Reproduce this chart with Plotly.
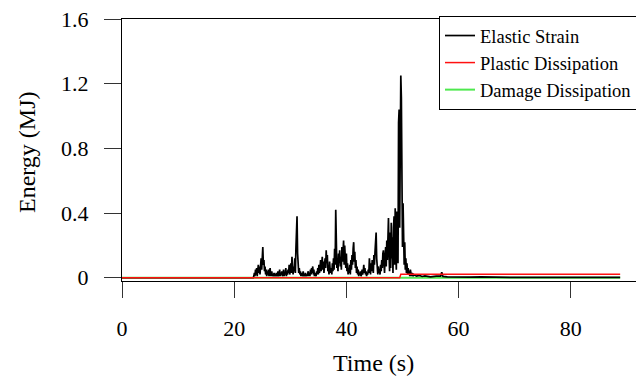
import plotly.graph_objects as go

# ---- data ----
# Elastic strain energy (MJ): zero before 23 s, dense record 23.0-52.0 s every 0.1 s, then a sparse tail
elastic_lead_time = [0.0, 22.9]
elastic_lead_vals = [0.0, 0.0]
elastic_dense_start = 23.0
elastic_dense_step = 0.1
elastic_dense_vals = [
    0, 0, 0, 0, 0, 0.01, 0.03, 0.01, 0.05, 0.02,                      # 23
    0.06, 0.01, 0.04, 0.08, 0.03, 0.07, 0.02, 0.09, 0.12, 0.05,        # 24
    0.15, 0.19, 0.08, 0.11, 0.04, 0.07, 0.02, 0.05, 0.01, 0.04,        # 25
    0.02, 0.05, 0.01, 0.03, 0.06, 0.01, 0.02, 0.04, 0.01, 0.02,        # 26
    0.01, 0.03, 0.01, 0.02, 0.01, 0.03, 0.02, 0.01, 0.04, 0.01,        # 27
    0.02, 0.05, 0.01, 0.03, 0.02, 0.04, 0.01, 0.02, 0.05, 0.01,        # 28
    0.03, 0.02, 0.06, 0.01, 0.04, 0.02, 0.05, 0.03, 0.08, 0.02,        # 29
    0.05, 0.09, 0.03, 0.13, 0.06, 0.02, 0.07, 0.04, 0.12, 0.03,        # 30
    0.18, 0.27, 0.38, 0.15, 0.09, 0.03, 0.06, 0.02, 0.04, 0.01,        # 31
    0.03, 0.01, 0.02, 0.04, 0.01, 0.02, 0.01, 0.03, 0.01, 0.02,        # 32
    0.01, 0.02, 0.04, 0.01, 0.03, 0.01, 0.05, 0.02, 0.06, 0.03,        # 33
    0.07, 0.02, 0.05, 0.01, 0.03, 0.02, 0.01, 0.04, 0.02, 0.06,        # 34
    0.02, 0.08, 0.03, 0.06, 0.11, 0.04, 0.09, 0.13, 0.05, 0.10,        # 35
    0.03, 0.08, 0.12, 0.06, 0.17, 0.09, 0.14, 0.04, 0.07, 0.02,        # 36
    0.10, 0.05, 0.03, 0.06, 0.02, 0.09, 0.04, 0.12, 0.05, 0.18,        # 37
    0.08, 0.42, 0.21, 0.06, 0.11, 0.04, 0.15, 0.09, 0.17, 0.07,        # 38
    0.13, 0.05, 0.19, 0.10, 0.16, 0.23, 0.08, 0.20, 0.12, 0.06,        # 39
    0.15, 0.04, 0.09, 0.02, 0.06, 0.03, 0.08, 0.02, 0.11, 0.05,        # 40
    0.14, 0.08, 0.18, 0.22, 0.10, 0.16, 0.06, 0.11, 0.03, 0.07,        # 41
    0.02, 0.05, 0.01, 0.03, 0.02, 0.04, 0.01, 0.02, 0.05, 0.02,        # 42
    0.04, 0.08, 0.03, 0.06, 0.02, 0.04, 0.01, 0.03, 0.02, 0.05,        # 43
    0.03, 0.12, 0.06, 0.02, 0.09, 0.04, 0.11, 0.07, 0.03, 0.14,        # 44
    0.08, 0.16, 0.21, 0.28, 0.12, 0.05, 0.02, 0.07, 0.03, 0.05,        # 45
    0.02, 0.08, 0.04, 0.11, 0.06, 0.15, 0.17, 0.09, 0.03, 0.13,        # 46
    0.19, 0.07, 0.23, 0.11, 0.30, 0.37, 0.15, 0.04, 0.28, 0.06,        # 47
    0.34, 0.12, 0.25, 0.03, 0.31, 0.38, 0.08, 0.43, 0.18, 0.05,        # 48
    0.41, 0.22, 0.09, 0.96, 1.04, 0.31, 0.88, 1.25, 1.11, 0.62,        # 49
    0.19, 0.46, 0.30, 0.08, 0.22, 0.05, 0.12, 0.03, 0.09, 0.02,        # 50
    0.06, 0.02, 0.04, 0.01, 0.05, 0.02, 0.01, 0.03, 0.02, 0.01,        # 51
    0.02,                                                              # 52.0
]
elastic_tail_time = [52.5, 53.0, 53.5, 54.0, 55.0, 56.0, 56.8, 57.0, 57.2, 58.0,
                     59.0, 60.0, 62.0, 64.0, 66.0, 68.0, 70.0, 75.0, 80.0, 85.0, 88.8]
elastic_tail_vals = [0.010, 0.015, 0.008, 0.012, 0.006, 0.010, 0.010, 0.034, 0.008, 0.006,
                     0.005, 0.006, 0.004, 0.005, 0.003, 0.002, 0.002, 0.002, 0.002, 0.002, 0.002]

plastic_time = [0.0, 49.5, 49.7, 88.8]
plastic_vals = [0.0, 0.0, 0.021, 0.021]

damage_time = [0.0, 49.6, 88.8]
damage_vals = [0.0, 0.0, 0.0]

x_tick_vals = [0, 20, 40, 60, 80]
y_tick_vals = [0, 0.4, 0.8, 1.2, 1.6]
y_tick_text = ["0", "0.4", "0.8", "1.2", "1.6"]

# ---- assemble elastic series ----
elastic_dense_time = [round(elastic_dense_start + elastic_dense_step * i, 1)
                      for i in range(len(elastic_dense_vals))]
elastic_time = elastic_lead_time + elastic_dense_time + elastic_tail_time
elastic_vals = elastic_lead_vals + elastic_dense_vals + elastic_tail_vals

FONT = "Liberation Serif"

# page has an 8px body margin; figure occupies page x 8..644, y 8..378
# plot area in page coords: x 122..644, y 19..281
fig = go.Figure()
fig.add_trace(go.Scatter(x=damage_time, y=damage_vals, mode="lines", name="Damage Dissipation",
                         line=dict(color="#4ee84e", width=2), legendrank=3, legendgroup="c"))
fig.add_trace(go.Scatter(x=elastic_time, y=elastic_vals, mode="lines", name="Elastic Strain",
                         line=dict(color="black", width=1.7), legendrank=1, legendgroup="a"))
fig.add_trace(go.Scatter(x=plastic_time, y=plastic_vals, mode="lines", name="Plastic Dissipation",
                         line=dict(color="#ff1010", width=1.5), legendrank=2, legendgroup="b"))

fig.update_layout(
    width=636, height=370,
    margin=dict(l=114, r=0, t=11, b=97),
    paper_bgcolor="white", plot_bgcolor="white",
    font=dict(family=FONT, color="black"),
    showlegend=True,
    legend=dict(x=(439 - 122) / 522, y=(281 - 16) / 262, xanchor="left", yanchor="top",
                bgcolor="white", bordercolor="black", borderwidth=1,
                font=dict(family=FONT, size=18.5, color="black"),
                traceorder="grouped", tracegroupgap=0),
    xaxis=dict(range=[0, 93.05], tickvals=x_tick_vals, ticks="outside", ticklen=16,
               tickcolor="#333", showline=True, linecolor="black", linewidth=1,
               mirror=True, showgrid=False, zeroline=False, ticklabeloverflow="allow",
               tickfont=dict(family=FONT, size=22), ticklabelstandoff=12),
    yaxis=dict(range=[-0.02, 1.6], tickvals=y_tick_vals, ticktext=y_tick_text,
               ticks="outside", ticklen=17, tickcolor="#333", showline=True,
               linecolor="black", linewidth=1, showgrid=False, zeroline=False,
               ticklabeloverflow="allow",
               tickfont=dict(family=FONT, size=22), ticklabelstandoff=11),
    annotations=[
        dict(text="Time (s)", xref="paper", yref="paper", x=(373 - 122) / 522,
             y=(281 - 363) / 262, xanchor="center", yanchor="middle", showarrow=False,
             font=dict(family=FONT, size=24)),
        dict(text="Energy (MJ)", xref="paper", yref="paper", x=(27 - 122) / 522,
             y=(281 - 152) / 262, xanchor="center", yanchor="middle", showarrow=False,
             textangle=-90, font=dict(family=FONT, size=24)),
    ],
)

fig.write_html("out.html")
